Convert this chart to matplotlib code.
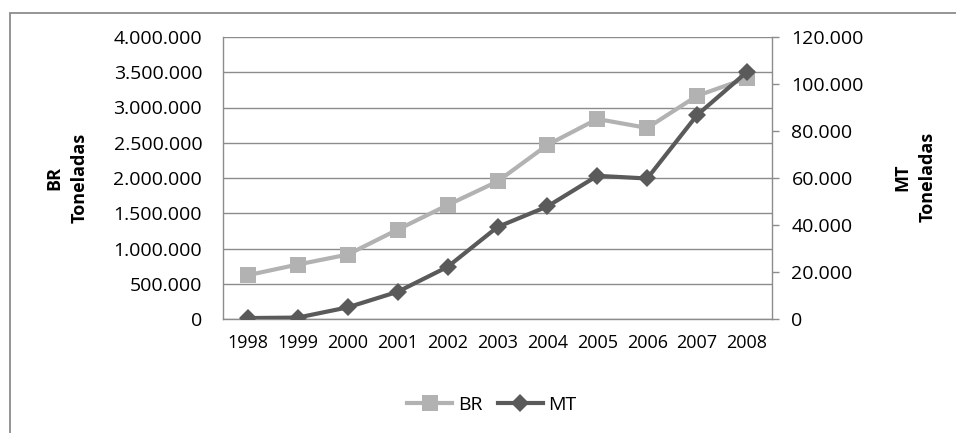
import matplotlib
matplotlib.use("Agg")
import matplotlib.pyplot as plt
from matplotlib.patches import Rectangle
from matplotlib.ticker import FuncFormatter, MultipleLocator

plt.rcParams['font.family'] = ['Open Sans', 'DejaVu Sans']

anos = ['1998', '1999', '2000', '2001', '2002', '2003', '2004', '2005', '2006', '2007', '2008']
br = [622000, 773000, 914000, 1268000, 1616000, 1951000, 2469000, 2837000, 2710000, 3166000, 3416000]
mt = [400, 600, 4960, 11580, 22180, 39140, 47900, 60930, 59790, 86800, 105160]

cor_br = '#b2b2b2'
cor_mt = '#5a5a5a'
cinza = '#8c8c8c'
fs = 14


def milhar(v, pos):
    return f"{int(round(v)):,}".replace(',', '.')


fig = plt.figure(figsize=(9.56, 4.33), dpi=100)

# moldura externa (cortada pela borda da imagem)
fig.patches.append(Rectangle((10 / 956, -0.2), 1.2, 1.2 + (433 - 13) / 433 - 1.0,
                             transform=fig.transFigure, fill=False,
                             edgecolor=cinza, linewidth=1.3))

ax = fig.add_axes([223 / 956, 114 / 433, 549 / 956, 282 / 433])
x = list(range(len(anos)))

ax.plot(x, br, color=cor_br, linewidth=3, marker='s', markersize=12,
        markeredgewidth=0, label='BR', zorder=3)
ax.set_ylim(0, 4000000)
ax.set_xlim(-0.5, len(anos) - 0.5)
ax.yaxis.set_major_locator(MultipleLocator(500000))
ax.yaxis.set_major_formatter(FuncFormatter(milhar))
ax.grid(axis='y', color=cinza, linewidth=1.0)
ax.set_axisbelow(True)
ax.set_xticks(x)
ax.set_xticklabels(anos)
ax.tick_params(axis='y', length=0, pad=15, labelsize=fs)
ax.tick_params(axis='x', length=0, pad=10.5, labelsize=fs - 1)
for s in ['top', 'right']:
    ax.spines[s].set_visible(False)
for s in ['left', 'bottom']:
    ax.spines[s].set_color(cinza)
    ax.spines[s].set_linewidth(1.0)

ax2 = ax.twinx()
ax2.plot(x, mt, color=cor_mt, linewidth=3, marker='D', markersize=9,
         markeredgewidth=0, label='MT', zorder=4)
ax2.set_ylim(0, 120000)
ax2.yaxis.set_major_locator(MultipleLocator(20000))
ax2.yaxis.set_major_formatter(FuncFormatter(milhar))
ax2.tick_params(axis='y', length=5, width=1.0, color=cinza, pad=9, labelsize=fs)
for s in ['top', 'left', 'bottom']:
    ax2.spines[s].set_visible(False)
ax2.spines['right'].set_color(cinza)
ax2.spines['right'].set_linewidth(1.0)

fig.text(67 / 956, 1 - 178 / 433, 'BR\nToneladas', rotation=90, ha='center', va='center',
         fontsize=fs - 1, fontweight='bold', multialignment='center', linespacing=1.55)
fig.text(915 / 956, 1 - 177 / 433, 'MT\nToneladas', rotation=90, ha='center', va='center',
         fontsize=fs - 1, fontweight='bold', multialignment='center', linespacing=1.55)

h1, l1 = ax.get_legend_handles_labels()
h2, l2 = ax2.get_legend_handles_labels()
fig.legend(h1 + h2, l1 + l2, loc='center', bbox_to_anchor=(492 / 956, 1 - 405 / 433),
           ncol=2, frameon=False, fontsize=fs, handlelength=2.3, handletextpad=0.3,
           columnspacing=0.8)

fig.savefig('out.png', dpi=100)
